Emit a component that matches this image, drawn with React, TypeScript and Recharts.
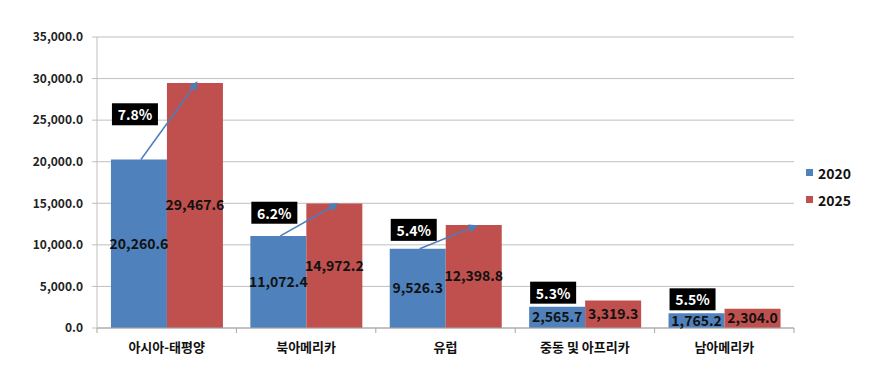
import { BarChart, Bar, XAxis, YAxis, CartesianGrid, LabelList } from "recharts";

const categories = ["아시아-태평양", "북아메리카", "유럽", "중동 및 아프리카", "남아메리카"];
const values2020 = [20260.6, 11072.4, 9526.3, 2565.7, 1765.2];
const values2025 = [29467.6, 14972.2, 12398.8, 3319.3, 2304.0];
const growthRates = ["7.8%", "6.2%", "5.4%", "5.3%", "5.5%"];
const showArrow = [true, true, true, false, false];
const yTicks = [0, 5000, 10000, 15000, 20000, 25000, 30000, 35000];

const data = categories.map((name, i) => ({
  name,
  v2020: values2020[i],
  v2025: values2025[i],
}));

const BLUE = "#4f81bd";
const RED = "#c0504d";
const FONT = "'Noto Sans CJK KR', 'Noto Sans', sans-serif";

const W = 869;
const H = 373;
const M = { top: 37, right: 75, left: 0, bottom: 0 };
const Y_W = 97;
const X_H = 45;
const band = (W - M.right - Y_W) / categories.length;

const fmt = (v: number) =>
  Number(v).toLocaleString("en-US", { minimumFractionDigits: 1, maximumFractionDigits: 1 });

function XTick(props: any) {
  const { x, y, payload, index } = props;
  const axisY = H - X_H;
  const left = x - band / 2;
  return (
    <g>
      <line x1={left} x2={left} y1={axisY} y2={axisY + 5} stroke="#a6a6a6" />
      {index === categories.length - 1 && (
        <line x1={left + band} x2={left + band} y1={axisY} y2={axisY + 5} stroke="#a6a6a6" />
      )}
      <text
        x={x}
        y={y + 10}
        textAnchor="middle"
        dominantBaseline="central"
        fontSize={13}
        fontWeight={700}
        fill="#111"
        fontFamily={FONT}
      >
        {payload.value}
      </text>
    </g>
  );
}

function GrowthLabel(props: any) {
  const { x, y, width, height, index } = props;
  const i = index;
  const bottom = y + height;
  const perUnit = height / values2025[i];
  const blueTop = bottom - values2020[i] * perUnit;
  const blueLeft = x - width;
  const mid = (blueTop + y) / 2;
  const boxCy = Math.min(mid - 7, blueTop - 14);
  return (
    <g>
      {showArrow[i] && (
        <line
          x1={blueLeft + width / 2 + 2}
          y1={blueTop}
          x2={x + width / 2}
          y2={y + 2}
          stroke="#4a7ebb"
          strokeWidth={1.5}
          markerEnd="url(#arrowHead)"
        />
      )}
      <rect x={blueLeft + 1} y={boxCy - 11} width={46} height={22} fill="#000" />
      <text
        x={blueLeft + 24}
        y={boxCy}
        textAnchor="middle"
        dominantBaseline="central"
        fill="#fff"
        fontSize={14}
        fontWeight={700}
        fontFamily={FONT}
      >
        {growthRates[i]}
      </text>
    </g>
  );
}

export default function App() {
  return (
    <div style={{ position: "relative", width: W, height: H, background: "#fff", fontFamily: FONT }}>
      <style>{`body{margin:0}`}</style>
      <BarChart width={W} height={H} data={data} margin={M} barCategoryGap="10%" barGap={0}>
        <defs>
          <marker id="arrowHead" markerWidth="6" markerHeight="6" refX="3" refY="3" orient="auto">
            <path d="M0,0 L6,3 L0,6 Z" fill="#4a7ebb" />
          </marker>
        </defs>
        <CartesianGrid vertical={false} stroke="#bfbfbf" />
        <XAxis
          dataKey="name"
          height={X_H}
          stroke="#a6a6a6"
          tickLine={false}
          tick={<XTick />}
          interval={0}
        />
        <YAxis
          width={Y_W}
          domain={[0, 35000]}
          ticks={yTicks}
          tickFormatter={fmt}
          stroke="#bfbfbf"
          tickSize={5}
          tickMargin={9}
          tick={{ fontSize: 12, fontWeight: 700, fill: "#222", fontFamily: FONT }}
        />
        <Bar dataKey="v2020" fill={BLUE} isAnimationActive={false}>
          <LabelList
            dataKey="v2020"
            position="center"
            formatter={fmt}
            fill="#111"
            fontSize={14}
            fontWeight={700}
            fontFamily={FONT}
          />
        </Bar>
        <Bar dataKey="v2025" fill={RED} isAnimationActive={false}>
          <LabelList
            dataKey="v2025"
            position="center"
            formatter={fmt}
            fill="#111"
            fontSize={14}
            fontWeight={700}
            fontFamily={FONT}
          />
          <LabelList dataKey="v2025" content={<GrowthLabel />} />
        </Bar>
      </BarChart>
      <div style={{ position: "absolute", left: 806, top: 159 }}>
        {[
          { label: "2020", color: BLUE },
          { label: "2025", color: RED },
        ].map((item) => (
          <div
            key={item.label}
            style={{ display: "flex", alignItems: "center", height: 27, fontSize: 14, fontWeight: 700, color: "#111" }}
          >
            <span style={{ width: 7, height: 7, background: item.color, marginRight: 5 }} />
            {item.label}
          </div>
        ))}
      </div>
    </div>
  );
}
